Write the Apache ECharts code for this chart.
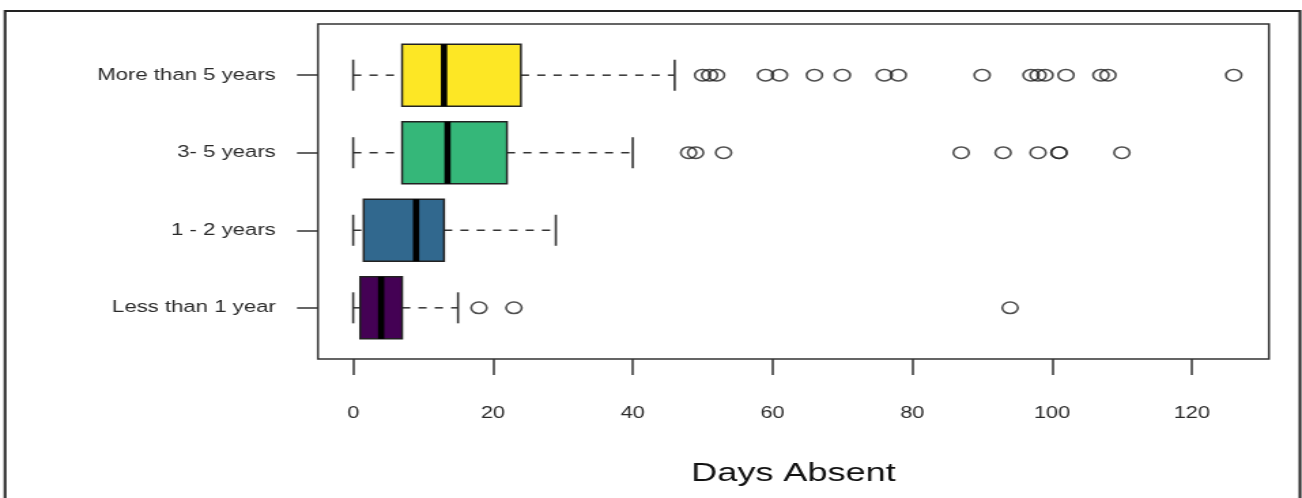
<!DOCTYPE html>
<html>
<head>
<meta charset="utf-8">
<script src="https://cdn.jsdelivr.net/npm/echarts@6/dist/echarts.min.js"></script>
<style>
  html, body { margin: 0; padding: 0; background: #fff; overflow: hidden; }
  #chart { width: 957px; height: 498px; transform: scaleX(1.3605); transform-origin: 0 0; }
</style>
</head>
<body>
<div id="chart"></div>
<script>
// ---- data ----
const categories = ['Less than 1 year', '1 - 2 years', '3- 5 years', 'More than 5 years'];
const lowWhisker  = [0, 0, 0, 0];
const q1Values    = [1, 1.5, 7, 7];
const medianValues= [4, 9, 13.5, 13];
const q3Values    = [7, 13, 22, 24];
const highWhisker = [15, 29, 40, 46];
const outliersLess1 = [18, 23, 94];
const outliers1to2  = [];
const outliers3to5  = [48, 49, 53, 87, 93, 98, 101, 101, 110];
const outliersMore5 = [50, 51, 52, 59, 61, 66, 70, 76, 78, 90, 97, 98, 99, 102, 107, 108, 126];
const xTickValues = [0, 20, 40, 60, 80, 100, 120];
const boxColors = ['#440154', '#31688E', '#35B779', '#FDE725'];
const xTitle = 'Days Absent';

// ---- build ----
const boxData = categories.map((c, i) => ({
  value: [i + 1, lowWhisker[i], q1Values[i], medianValues[i], q3Values[i], highWhisker[i]],
  itemStyle: { color: boxColors[i] }
}));
const outlierGroups = [outliersLess1, outliers1to2, outliers3to5, outliersMore5];
const outlierData = [];
outlierGroups.forEach((g, i) => g.forEach(v => outlierData.push([v, i + 1])));

const chart = echarts.init(document.getElementById('chart'), null, { renderer: 'canvas' });
const textFont = 'Liberation Sans, Arial, sans-serif';

chart.setOption({
  animation: false,
  backgroundColor: '#fff',
  graphic: [{
    type: 'rect',
    shape: { x: 3.7, y: 11, width: 951.8, height: 600 },
    style: { fill: 'none', stroke: '#222', lineWidth: 2 },
    silent: true
  }],
  grid: {
    left: 233.7, right: 24.3, top: 24, bottom: 139,
    show: true, borderColor: '#333', borderWidth: 1.5, backgroundColor: 'transparent'
  },
  xAxis: {
    type: 'value', min: -5.04, max: 131.04,
    name: xTitle, nameLocation: 'middle', nameGap: 101,
    nameTextStyle: { fontFamily: textFont, fontSize: 26.5, color: '#111' },
    axisLine: { show: false, onZero: false },
    axisTick: { show: true, inside: false, length: 16, customValues: xTickValues, lineStyle: { color: '#333', width: 1.5 } },
    axisLabel: { customValues: xTickValues, margin: 47, fontFamily: textFont, fontSize: 16, color: '#2a2a2a' },
    splitLine: { show: false }
  },
  yAxis: {
    type: 'value', min: 0.34, max: 4.66,
    axisLine: { show: false, onZero: false },
    axisTick: { show: true, inside: false, length: 15.4, customValues: [1, 2, 3, 4], lineStyle: { color: '#333', width: 1.5 } },
    axisLabel: {
      customValues: [1, 2, 3, 4], margin: 31, fontFamily: textFont, fontSize: 16.3, color: '#2a2a2a',
      padding: [4, 0, 0, 0],
      formatter: v => categories[Math.round(v) - 1] || ''
    },
    splitLine: { show: false }
  },
  series: [{
    type: 'custom',
    encode: { x: [1, 2, 3, 4, 5], y: 0 },
    data: boxData,
    z: 2,
    renderItem: function (params, api) {
      const y = api.value(0);
      const pLo = api.coord([api.value(1), y]);
      const pQ1 = api.coord([api.value(2), y]);
      const pMd = api.coord([api.value(3), y]);
      const pQ3 = api.coord([api.value(4), y]);
      const pHi = api.coord([api.value(5), y]);
      const h = api.size([0, 0.8])[1];
      const cy = pLo[1];
      const fill = boxColors[y - 1];
      const dash = { stroke: '#333', lineWidth: 1.5, lineDash: [6, 6] };
      const solid = { stroke: '#333', lineWidth: 1.6 };
      return {
        type: 'group',
        children: [
          { type: 'line', shape: { x1: pLo[0], y1: cy, x2: pQ1[0], y2: cy }, style: dash },
          { type: 'line', shape: { x1: pQ3[0], y1: cy, x2: pHi[0], y2: cy }, style: dash },
          { type: 'line', shape: { x1: pLo[0], y1: cy - h / 4, x2: pLo[0], y2: cy + h / 4 }, style: solid },
          { type: 'line', shape: { x1: pHi[0], y1: cy - h / 4, x2: pHi[0], y2: cy + h / 4 }, style: solid },
          { type: 'rect', shape: { x: pQ1[0], y: cy - h / 2, width: pQ3[0] - pQ1[0], height: h },
            style: { fill: fill, stroke: '#222', lineWidth: 1.5 } },
          { type: 'line', shape: { x1: pMd[0], y1: cy - h / 2, x2: pMd[0], y2: cy + h / 2 },
            style: { stroke: '#000', lineWidth: 4.6 } }
        ]
      };
    }
  }, {
    type: 'scatter',
    data: outlierData,
    symbol: 'circle',
    symbolSize: 11.5,
    z: 3,
    itemStyle: { color: 'rgba(0,0,0,0)', borderColor: '#222', borderWidth: 1.6 }
  }]
});
</script>
</body>
</html>
